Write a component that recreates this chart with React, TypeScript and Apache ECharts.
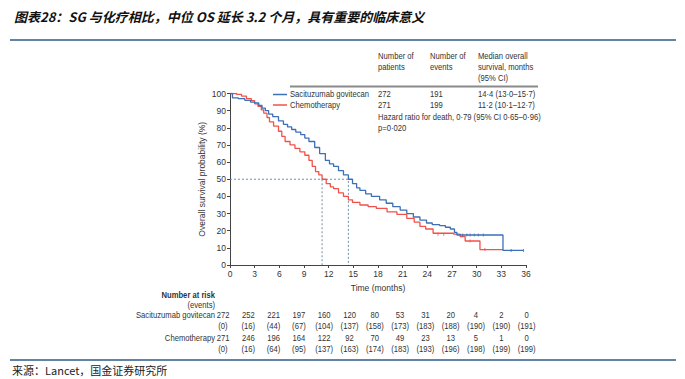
import React, { useEffect, useRef } from "react";
import * as echarts from "echarts";

// Kaplan-Meier curves: [months, survival %]
const sgCurve: [number, number][] = [
  [0, 100], [0.3, 97.5], [1.0, 97], [1.8, 96], [2.5, 95], [3.0, 94.5], [3.5, 93], [3.9, 91.5],
  [4.3, 90], [4.7, 88], [5.2, 86.5], [5.9, 84], [6.5, 82], [7.0, 80.5], [7.5, 79], [8.0, 77.5],
  [8.6, 76], [9.1, 74], [9.6, 72], [10.3, 68.5], [10.9, 65], [11.6, 61], [12.1, 59], [12.6, 57.5],
  [13.2, 55], [13.8, 52.5], [14.4, 50], [14.9, 47.5], [15.4, 45], [15.8, 43.5], [16.5, 41.5],
  [17.2, 40], [18.2, 38], [19.0, 36], [19.8, 34], [20.7, 32], [21.5, 30], [22.3, 28], [23.1, 26.2],
  [23.9, 24.5], [24.6, 23.5], [25.5, 23], [26.2, 22], [26.8, 21], [27.3, 19], [27.6, 17.5],
  [33.2, 8.5], [35.7, 8.5],
];
const chemoCurve: [number, number][] = [
  [0, 100], [0.8, 99.5], [1.4, 98.5], [2.0, 97], [2.6, 95.8], [3.0, 94], [3.4, 92.5], [3.8, 90.5],
  [4.1, 88.5], [4.5, 86], [4.8, 83.5], [5.3, 81], [5.9, 78], [6.3, 75], [6.7, 72], [7.3, 70],
  [7.9, 68], [8.5, 66], [9.1, 64], [9.6, 61], [10.0, 57.5], [10.4, 54.5], [10.8, 52.5], [11.2, 50],
  [11.7, 47.5], [12.2, 45.5], [12.6, 44.5], [13.2, 42], [13.8, 40], [14.4, 38], [14.9, 36.5],
  [15.8, 35], [16.8, 34], [17.8, 33], [19.1, 31], [20.3, 29.5], [21.5, 27.2], [22.4, 25], [23.1, 22.5],
  [23.8, 21], [24.7, 18.5], [27.2, 18], [28.0, 16.5], [28.6, 14], [30.4, 9], [33.2, 9],
];
const sgCensored: [number, number][] = [
  [28.3, 17.5], [28.8, 17.5], [29.2, 17.5], [29.7, 17.5], [30.2, 17.5], [30.8, 17.5], [34.2, 8.5], [35.7, 8.5],
];
const chemoCensored: [number, number][] = [[25.3, 18], [26.0, 18], [29.2, 14], [31.0, 9]];

const seriesNames = ["Sacituzumab govitecan", "Chemotherapy"];
const seriesColors = ["#3b70b6", "#f0524a"];
const medians = [14.4, 11.2];
const patients = ["272", "271"];
const eventsTotal = ["191", "199"];
const medianCI = ["14·4 (13·0–15·7)", "11·2 (10·1–12·7)"];
const headerPatients = ["Number of", "patients"];
const headerEvents = ["Number of", "events"];
const headerMedian = ["Median overall", "survival, months", "(95% CI)"];
const hazardText = "Hazard ratio for death, 0·79 (95% CI 0·65–0·96)";
const pText = "p=0·020";

const sgAtRisk = [272, 252, 221, 197, 160, 120, 80, 53, 31, 20, 4, 2, 0];
const sgEvents = [0, 16, 44, 67, 104, 137, 158, 173, 183, 188, 190, 190, 191];
const chemoAtRisk = [271, 246, 196, 164, 122, 92, 70, 49, 23, 13, 5, 1, 0];
const chemoEvents = [0, 16, 64, 95, 137, 163, 174, 183, 193, 196, 198, 199, 199];

const titleText = "图表28：SG 与化疗相比，中位 OS 延长 3.2 个月，具有重要的临床意义";
const sourceText = "来源：Lancet，国金证券研究所";
const yAxisName = "Overall survival probability (%)";
const xAxisName = "Time (months)";

const FONT = "'Liberation Sans', Arial, sans-serif";
const FS = 8.5;
const SX = 0.9;
const TXT = "#333";

function txt(x: number, y: number, text: string, opts: any = {}) {
  const align = opts.align || "left";
  return {
    type: "text",
    x,
    y,
    scaleX: SX,
    silent: true,
    style: {
      text,
      fill: opts.fill || TXT,
      font: opts.font || `${opts.weight || "normal"} ${opts.size || FS}px ${FONT}`,
      align,
      textAlign: align,
      verticalAlign: "middle",
      textVerticalAlign: "middle",
    },
  };
}

export default function App() {
  const ref = useRef<HTMLDivElement>(null);
  useEffect(() => {
    if (!ref.current) return;
    const chart = echarts.init(ref.current, undefined, { renderer: "svg" });

    const graphics: any[] = [];
    graphics.push({
      type: "text",
      x: 14,
      y: 16,
      silent: true,
      style: {
        text: titleText,
        fill: "#111",
        font: `italic bold 13px 'Noto Sans CJK SC', sans-serif`,
        verticalAlign: "middle",
        textVerticalAlign: "middle",
      },
    });
    graphics.push({ type: "line", shape: { x1: 10, y1: 40, x2: 676, y2: 40 }, style: { stroke: "#2c5a88", lineWidth: 1.5 } });
    graphics.push({ type: "line", shape: { x1: 10, y1: 360, x2: 676, y2: 360 }, style: { stroke: "#2c5a88", lineWidth: 1.5 } });
    graphics.push({
      type: "text",
      x: 12,
      y: 370,
      silent: true,
      style: {
        text: sourceText,
        fill: "#222",
        font: `11px 'Noto Sans CJK SC', sans-serif`,
        verticalAlign: "middle",
        textVerticalAlign: "middle",
      },
    });

    headerPatients.forEach((t, i) => graphics.push(txt(378, 56 + i * 11, t)));
    headerEvents.forEach((t, i) => graphics.push(txt(430, 56 + i * 11, t)));
    headerMedian.forEach((t, i) => graphics.push(txt(478, 56 + i * 11, t)));
    graphics.push({ type: "line", shape: { x1: 290, y1: 86.5, x2: 538, y2: 86.5 }, style: { stroke: "#8a8a8a", lineWidth: 2 } });
    seriesNames.forEach((name, i) => {
      const y = 94.5 + i * 10.5;
      graphics.push({ type: "line", shape: { x1: 273, y1: y, x2: 287, y2: y }, style: { stroke: seriesColors[i], lineWidth: 1.5 } });
      graphics.push(txt(290, y, name));
      graphics.push(txt(378, y, patients[i]));
      graphics.push(txt(430, y, eventsTotal[i]));
      graphics.push(txt(478, y, medianCI[i]));
    });
    graphics.push(txt(378, 117, hazardText));
    graphics.push(txt(378, 128, pText));

    graphics.push(txt(215, 295, "Number at risk", { align: "right", weight: "bold" }));
    graphics.push(txt(215, 305, "(events)", { align: "right" }));
    const rows = [
      { label: seriesNames[0], risk: sgAtRisk, ev: sgEvents, y: 315 },
      { label: seriesNames[1], risk: chemoAtRisk, ev: chemoEvents, y: 338 },
    ];
    rows.forEach((r) => {
      graphics.push(txt(215, r.y, r.label, { align: "right" }));
      r.risk.forEach((v, i) => {
        const cx = 223 + i * 25.3;
        graphics.push(txt(cx, r.y, String(v), { align: "center" }));
        graphics.push(txt(cx, r.y + 11, `(${r.ev[i]})`, { align: "center" }));
      });
    });

    const medianLine = (m: number, withHorizontal: boolean) => ({
      type: "line",
      data: withHorizontal ? [[0, 50], [m, 50], [m, 0]] : [[m, 50], [m, 0]],
      showSymbol: false,
      silent: true,
      lineStyle: { color: "#6f8fae", width: 1, type: [2, 2] },
      z: 1,
    });

    const censorSymbol = "path://M0,0L1,0L1,10L0,10Z";

    chart.setOption({
      animation: false,
      backgroundColor: "#fff",
      textStyle: { fontFamily: FONT },
      grid: { left: 230, top: 93.5, width: 296, height: 171.5, containLabel: false },
      xAxis: {
        type: "value",
        min: 0,
        max: 36,
        interval: 3,
        name: xAxisName,
        nameLocation: "middle",
        nameGap: 18,
        nameTextStyle: { color: TXT, fontSize: FS, fontFamily: FONT },
        axisLine: { lineStyle: { color: "#444", width: 1 } },
        axisTick: { length: 3, lineStyle: { color: "#444" } },
        axisLabel: { color: TXT, fontSize: FS, margin: 4, fontFamily: FONT },
        splitLine: { show: false },
      },
      yAxis: {
        type: "value",
        min: 0,
        max: 100,
        interval: 10,
        name: yAxisName,
        nameLocation: "middle",
        nameGap: 24,
        nameRotate: 90,
        nameTextStyle: { color: TXT, fontSize: FS, fontFamily: FONT },
        axisLine: { show: true, lineStyle: { color: "#444", width: 1 } },
        axisTick: { show: true, length: 3, lineStyle: { color: "#444" } },
        axisLabel: { color: TXT, fontSize: FS, margin: 4, fontFamily: FONT },
        splitLine: { show: false },
      },
      series: [
        medianLine(medians[0], true),
        medianLine(medians[1], false),
        {
          name: seriesNames[1],
          type: "line",
          step: "end",
          data: chemoCurve,
          showSymbol: false,
          lineStyle: { color: seriesColors[1], width: 1.3 },
          z: 2,
        },
        {
          name: seriesNames[0],
          type: "line",
          step: "end",
          data: sgCurve,
          showSymbol: false,
          lineStyle: { color: seriesColors[0], width: 1.3 },
          z: 3,
        },
        {
          type: "scatter",
          data: chemoCensored,
          symbol: censorSymbol,
          symbolSize: [1, 3],
          itemStyle: { color: seriesColors[1] },
          silent: true,
        },
        {
          type: "scatter",
          data: sgCensored,
          symbol: censorSymbol,
          symbolSize: [1, 3],
          itemStyle: { color: seriesColors[0] },
          silent: true,
        },
      ],
      graphic: graphics,
    });
    return () => chart.dispose();
  }, []);
  return (
    <div
      ref={ref}
      style={{ position: "fixed", left: 0, top: 0, width: 685, height: 379, background: "#fff" }}
    />
  );
}
